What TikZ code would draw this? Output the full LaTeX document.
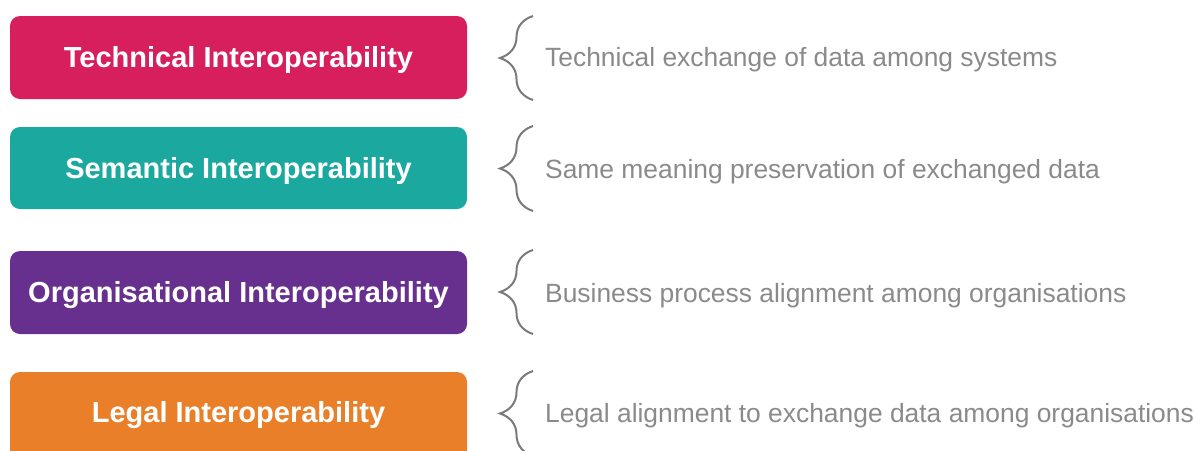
\documentclass[tikz,border=0pt]{standalone}
\usepackage{fontspec}
\setmainfont{Liberation Sans}
\usetikzlibrary{decorations.pathreplacing}
\definecolor{cred}{HTML}{D81F5E}
\definecolor{cteal}{HTML}{1BA89F}
\definecolor{cpurple}{HTML}{67308E}
\definecolor{corange}{HTML}{EA7F2A}
\definecolor{ctext}{HTML}{8A8A8A}
\definecolor{cbrace}{HTML}{7A7A7A}
\tikzset{
  box/.style={rounded corners=10pt, inner sep=0pt},
  boxtext/.style={text=white, font=\fontsize{29}{32}\selectfont\bfseries, anchor=center},
  desc/.style={text=ctext, font=\fontsize{26.4}{30}\selectfont, anchor=west, inner sep=0pt},
  bracestyle/.style={draw=cbrace, line width=2pt, decorate, decoration={brace, amplitude=33pt, aspect=0.5}}
}
\begin{document}
\begin{tikzpicture}[x=1pt,y=-1pt]
\useasboundingbox (0,0) rectangle (1196,450);
\begin{scope}
\clip (0,0) rectangle (1196,450);
% boxes
\fill[cred, box] (10,16) rectangle (467,99);
\fill[cteal, box] (10,127) rectangle (467,209);
\fill[cpurple, box] (10,251) rectangle (467,334);
\fill[corange, box] (10,372) rectangle (467,470);
\node[boxtext] (t1) at (238.5,60) {Technical Interoperability};
\node[boxtext] (t2) at (238.5,171) {Semantic Interoperability};
\node[boxtext] (t3) at (238.5,295) {Organisational Interoperability};
\node[boxtext] (t4) at (238.5,415) {Legal Interoperability};
% braces
\coordinate (b1t) at (533,16); \coordinate (b1b) at (533,100);
\coordinate (b2t) at (533,126); \coordinate (b2b) at (533,211);
\coordinate (b3t) at (533,250); \coordinate (b3b) at (533,334);
\coordinate (b4t) at (533,371); \coordinate (b4b) at (533,456);
\draw[bracestyle] (b1b) -- (b1t);
\draw[bracestyle] (b2b) -- (b2t);
\draw[bracestyle] (b3b) -- (b3t);
\draw[bracestyle] (b4b) -- (b4t);
% descriptions
\node[desc] (d1) at (545,60) {Technical exchange of data among systems};
\node[desc] (d2) at (545,172) {Same meaning preservation of exchanged data};
\node[desc] (d3) at (545,296) {Business process alignment among organisations};
\node[desc] (d4) at (545,416) {Legal alignment to exchange data among organisations};
\end{scope}
\end{tikzpicture}
\end{document}
